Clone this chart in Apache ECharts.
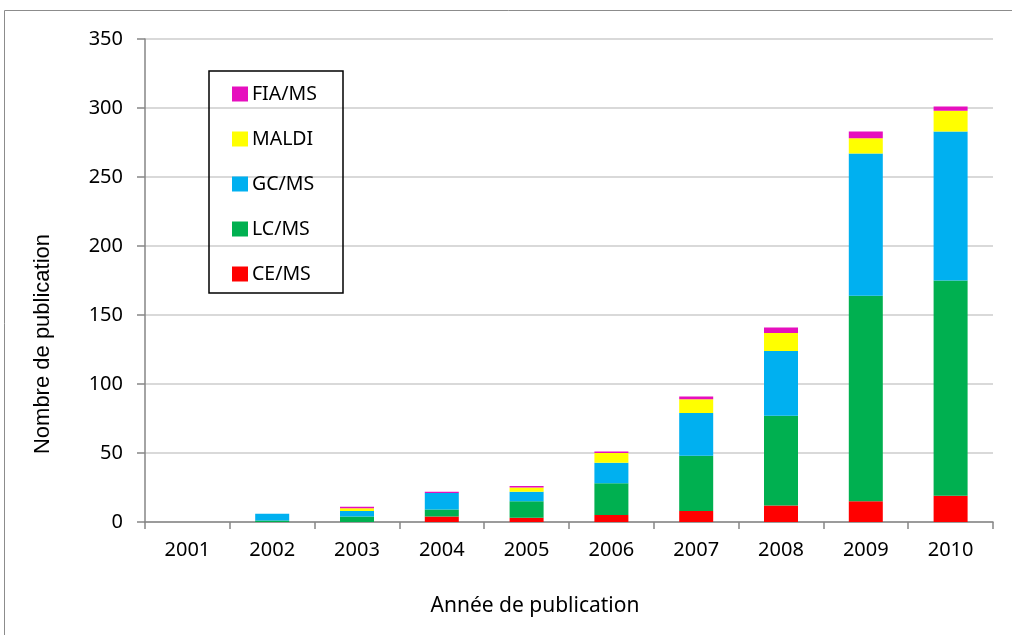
<!DOCTYPE html>
<html>
<head>
<meta charset="utf-8">
<script src="https://cdn.jsdelivr.net/npm/echarts@6/dist/echarts.min.js"></script>
<style>
  html, body { margin: 0; padding: 0; background: #fff; }
  #chart { width: 1012px; height: 635px; }
</style>
</head>
<body>
<div id="chart"></div>
<script>
const years = ['2001', '2002', '2003', '2004', '2005', '2006', '2007', '2008', '2009', '2010']
const ceMs = [0, 0, 0, 4, 3, 5, 8, 12, 15, 19]
const lcMs = [0, 1, 4, 5, 12, 23, 40, 65, 149, 156]
const gcMs = [0, 5, 4, 12, 7, 15, 31, 47, 103, 108]
const maldi = [0, 0, 2, 0, 3, 7, 10, 13, 11, 15]
const fiaMs = [0, 0, 1, 1, 1, 1, 2, 4, 5, 3]
const yTicks = [0, 50, 100, 150, 200, 250, 300, 350]

const SERIES = [
  { name: 'CE/MS', data: ceMs, color: '#ff0000' },
  { name: 'LC/MS', data: lcMs, color: '#00b050' },
  { name: 'GC/MS', data: gcMs, color: '#00b0f0' },
  { name: 'MALDI', data: maldi, color: '#ffff00' },
  { name: 'FIA/MS', data: fiaMs, color: '#e60fbe' },
]

const font = '"Noto Sans", sans-serif'
const chart = echarts.init(document.getElementById('chart'))

chart.setOption({
  animation: false,
  grid: { left: 145, right: 19, top: 39, bottom: 113 },
  legend: {
    orient: 'vertical', left: 209, top: 71,
    padding: [13, 20, 10, 23],
    itemWidth: 16, itemHeight: 15, itemGap: 25,
    icon: 'rect',
    data: ['FIA/MS', 'MALDI', 'GC/MS', 'LC/MS', 'CE/MS'],
    textStyle: { fontFamily: font, fontSize: 19.5, color: '#000', lineHeight: 20, padding: [0, 0, 0, -1] },
  },
  graphic: [
    { type: 'rect', shape: { x: 4.5, y: 10.5, width: 1100, height: 700 }, style: { fill: 'none', stroke: '#8c8c8c', lineWidth: 1 }, silent: true },
    { type: 'rect', shape: { x: 209, y: 71, width: 134, height: 222 }, style: { fill: 'none', stroke: '#000', lineWidth: 1.5 }, silent: true, z: 10 },
    { type: 'text', x: 43, y: 344, rotation: Math.PI / 2, style: { text: 'Nombre de publication', font: '22px "Liberation Sans", Arial, sans-serif', fill: '#000', align: 'center', verticalAlign: 'middle' } },
    { type: 'text', x: 535, y: 606, style: { text: 'Année de publication', font: '21px ' + font, fill: '#000', align: 'center', verticalAlign: 'middle' } },
  ],
  xAxis: {
    type: 'category', data: years,
    axisLine: { lineStyle: { color: '#868686', width: 1.5 } },
    axisTick: { show: true, length: 7, lineStyle: { color: '#868686', width: 1.5 } },
    axisLabel: { fontFamily: font, fontSize: 20, color: '#000', margin: 18 },
  },
  yAxis: {
    type: 'value', min: 0, max: 350, interval: 50,
    axisLine: { show: true, lineStyle: { color: '#868686', width: 1.5 } },
    axisTick: { show: true, length: 8, lineStyle: { color: '#868686', width: 1.5 } },
    axisLabel: { fontFamily: font, fontSize: 20, color: '#000', margin: 22,
      formatter: v => yTicks.includes(v) ? String(v) : '' },
    splitLine: { lineStyle: { color: '#cccccc', width: 1.5 } },
  },
  series: SERIES.map(s => ({
    name: s.name, type: 'bar', stack: 'all', barWidth: 34,
    itemStyle: { color: s.color },
    data: s.data,
  })),
})
</script>
</body>
</html>
